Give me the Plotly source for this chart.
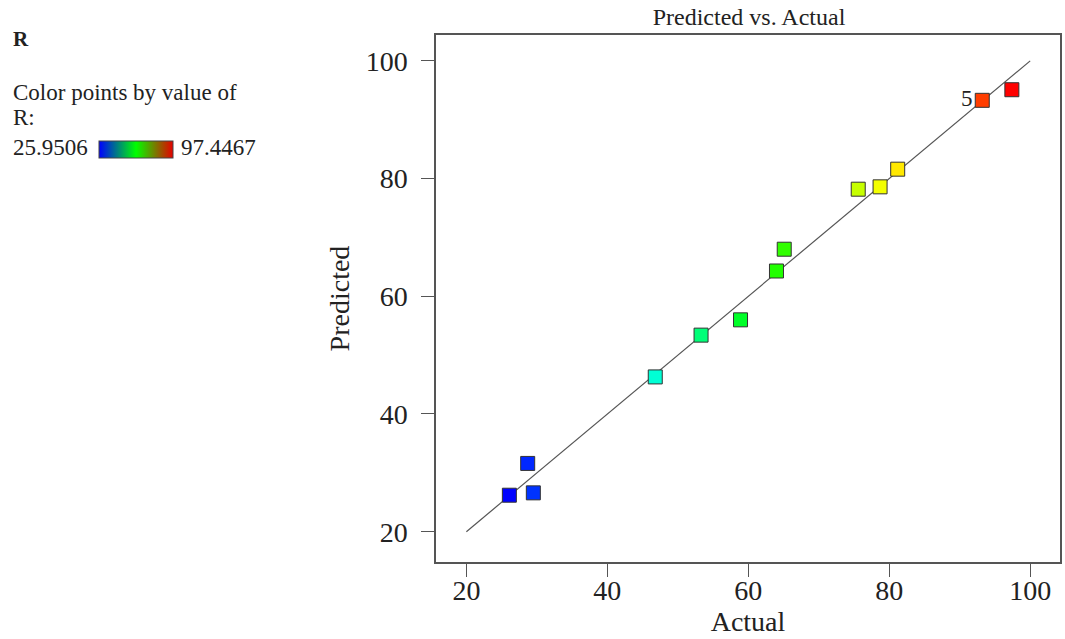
import plotly.graph_objects as go

# Data
actual = [26.1, 28.7, 29.5, 46.8, 53.3, 58.9, 64.0, 65.1, 75.6, 78.7, 81.2, 93.2, 97.4]
predicted = [26.2, 31.6, 26.6, 46.3, 53.4, 56.0, 64.3, 68.0, 78.2, 78.6, 81.6, 93.3, 95.1]
point_labels = ["", "", "", "", "", "", "", "", "", "", "", "5", ""]
r_min = 25.9506
r_max = 97.4467
diag = [20, 100]
tick_vals = [20, 40, 60, 80, 100]

FONT = "Liberation Serif"
marker_scale = [[0.0, "rgb(0,0,255)"], [0.25, "rgb(0,255,255)"], [0.5, "rgb(0,255,0)"],
                [0.75, "rgb(255,255,0)"], [1.0, "rgb(255,0,0)"]]
legend_scale = [[0.0, "rgb(0,0,255)"], [0.5, "rgb(0,255,0)"], [1.0, "rgb(230,0,0)"]]

fig = go.Figure()

fig.add_trace(go.Scatter(x=diag, y=diag, mode="lines",
                         line=dict(color="#555555", width=1.2), hoverinfo="skip",
                         showlegend=False))

fig.add_trace(go.Scatter(
    x=actual, y=predicted, mode="markers+text", text=point_labels,
    textposition="middle left",
    textfont=dict(family=FONT, size=23, color="#222"),
    marker=dict(symbol="square", size=14, color=actual, colorscale=marker_scale,
                cmin=r_min, cmax=r_max, line=dict(color="#333", width=1)),
    showlegend=False))

# legend colour bar
fig.add_trace(go.Scatter(
    x=[None], y=[None], mode="markers", showlegend=False,
    marker=dict(color=[r_min, r_max], colorscale=legend_scale, cmin=r_min, cmax=r_max,
                showscale=True,
                colorbar=dict(orientation="h", thickness=17, lenmode="pixels", len=74,
                              x=(135 - 436) / 626, xanchor="center",
                              y=(562 - 149.5) / 527, yanchor="middle",
                              xpad=0, ypad=0, showticklabels=False, ticks="",
                              outlinecolor="#444", outlinewidth=1))))

axis_common = dict(showline=True, mirror=True, linecolor="#555555", linewidth=1.5,
                   ticks="outside", ticklen=13, tickcolor="#555555", tickwidth=1.2,
                   showgrid=False, zeroline=False, tickvals=tick_vals,
                   tickfont=dict(family=FONT, size=28, color="#222"))

fig.update_layout(
    width=1065, height=639,
    margin=dict(l=436, r=3, t=35, b=77),
    paper_bgcolor="white", plot_bgcolor="white",
    title=dict(text="Predicted vs. Actual", x=(436 + 1062) / 2 / 1065, xanchor="center",
               y=1 - 17 / 639, yanchor="middle",
               font=dict(family=FONT, size=24, color="#222")),
    xaxis=dict(range=[15.69, 104.23], ticklabelstandoff=-10,
               title=dict(text="Actual", font=dict(family=FONT, size=28, color="#222"),
                          standoff=6),
               **axis_common),
    yaxis=dict(range=[14.85, 104.4], ticklabelstandoff=8,
               title=dict(text="Predicted", font=dict(family=FONT, size=28, color="#222"),
                          standoff=8),
               **axis_common),
)

def left_text(text, px, py, size=23, bold=False):
    fig.add_annotation(text=f"<b>{text}</b>" if bold else text,
                       xref="paper", yref="paper",
                       x=(px - 436) / 626, y=(562 - py) / 527,
                       xanchor="left", yanchor="middle", showarrow=False,
                       xshift=-2,
                       font=dict(family=FONT, size=size, color="#222"))

left_text("R", 12, 39, size=21, bold=True)
left_text("Color points by value of", 12, 92)
left_text("R:", 12, 118)
left_text(f"{r_min:.4f}", 12, 147)
left_text(f"{r_max:.4f}", 180, 147)

fig.write_html("out.html", config={"displayModeBar": False},
               post_script="document.body.style.margin='0';document.body.style.overflow='hidden';")
